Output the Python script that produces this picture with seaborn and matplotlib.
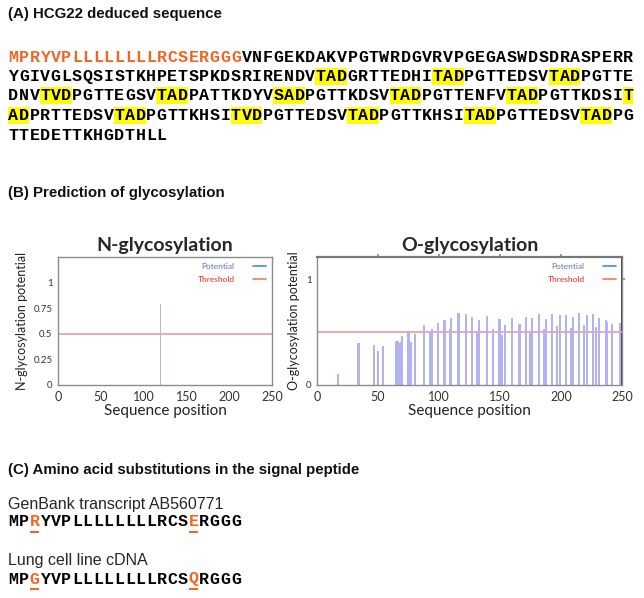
import numpy as np
import pandas as pd
import matplotlib
matplotlib.use("Agg")
import matplotlib.pyplot as plt
import seaborn as sns
from matplotlib.lines import Line2D
from matplotlib.patches import Rectangle

# ---- 数据 ----
SEQ_LINES = [
    "MPRYVPLLLLLLLLRCSERGGGVNFGEKDAKVPGTWRDGVRVPGEGASWDSDRASPERR",
    "YGIVGLSQSISTKHPETSPKDSRIRENDVTADGRTTEDHITADPGTTEDSVTADPGTTE",
    "DNVTVDPGTTEGSVTADPATTKDYVSADPGTTKDSVTADPGTTENFVTADPGTTKDSIT",
    "ADPRTTEDSVTADPGTTKHSITVDPGTTEDSVTADPGTTKHSITADPGTTEDSVTADPG",
    "TTEDETTKHGDTHLL",
]
SIGNAL_LEN = 22
MOTIFS = ["TAD", "TVD", "SAD"]

N_POS = [120]
N_VAL = [0.79]

O_POS = [17, 34, 47, 50, 54, 65, 66, 68, 69, 70, 75, 77, 80, 88, 93,
         94, 99, 104, 105, 109, 110, 116, 122, 127, 131, 133, 139, 144, 149, 150,
         152, 154, 160, 166, 171, 175, 176, 182, 186, 188, 193, 197, 199, 204, 208,
         210, 215, 219, 221, 226, 229, 231, 237, 238, 242, 248]
O_VAL = [0.10, 0.40, 0.38, 0.32, 0.37, 0.42, 0.42, 0.40, 0.41, 0.46, 0.51, 0.41, 0.48, 0.57, 0.51,
         0.53, 0.59, 0.61, 0.61, 0.53, 0.63, 0.68, 0.67, 0.64, 0.49, 0.61, 0.65, 0.53, 0.62, 0.62,
         0.47, 0.57, 0.63, 0.58, 0.64, 0.51, 0.63, 0.67, 0.53, 0.62, 0.67, 0.56, 0.66, 0.66, 0.54,
         0.64, 0.68, 0.57, 0.66, 0.67, 0.55, 0.63, 0.61, 0.60, 0.58, 0.59]

THRESHOLD = 0.5
X_TICKS = [0, 50, 100, 150, 200, 250]
N_YTICKS = [0, 0.25, 0.5, 0.75, 1]
N_YTICKLABELS = ["0", "0.25", "0.5", "0.75", "1"]
O_YTICKS = [0, 1]
O_YTICKLABELS = ["0", "1"]
LEGEND_LABELS = ["Potential", "Threshold"]

GENBANK_SEQ = "MPRYVPLLLLLLLLRCSERGGG"
LUNG_SEQ = "MPGYVPLLLLLLLLRCSQRGGG"

# ---- 样式 ----
W, H = 644, 598
ORANGE = "#f26522"
YELLOW = "#ffff00"
BAR = "#b3b3f2"
THR = "#f5a0a0"
BLUE_TXT = "#5b74b0"
BLUE_LINE = "#3d8fe0"
RED_TXT = "#f02828"
RED_LINE = "#f07a5a"
GREY = "#8c8c8c"
CW = 10.6          # 等宽字符间距 (px)
X0 = 8
PLOT_FONT = ["Lato", "DejaVu Sans"]
HEAD_KW = dict(fontsize=10.8, weight="bold", va="center", color="#111111")

sns.set_theme(style="white")
plt.rcParams["font.family"] = ["Liberation Sans", "DejaVu Sans"]


def fx(px):
    return px / W


def fy(py):
    return 1 - py / H


fig = plt.figure(figsize=(W / 100, H / 100), dpi=100)


def mono_text(seq, y, colors=None):
    for i, ch in enumerate(seq):
        c = colors[i] if colors else "black"
        fig.text(fx(X0 + (i + 0.5) * CW), fy(y), ch, ha="center", va="center",
                 family="Liberation Mono", weight="bold", fontsize=12, color=c)


# (A) 序列
fig.text(fx(X0), fy(14), "(A) HCG22 deduced sequence", **HEAD_KW)

full = "".join(SEQ_LINES)
starts = np.cumsum([0] + [len(s) for s in SEQ_LINES])
hl = np.zeros(len(full), dtype=bool)
for m in MOTIFS:
    k = full.find(m)
    while k >= 0:
        hl[k:k + len(m)] = True
        k = full.find(m, k + 1)

LINE_Y = [57 + 19.5 * i for i in range(len(SEQ_LINES))]
for li, (seq, y) in enumerate(zip(SEQ_LINES, LINE_Y)):
    for i in range(len(seq)):
        if hl[starts[li] + i]:
            fig.add_artist(Rectangle((fx(X0 + i * CW), fy(y + 8.5)), CW / W, 17 / H,
                                     transform=fig.transFigure, color=YELLOW, lw=0, zorder=0))
    colors = [ORANGE if starts[li] + i < SIGNAL_LEN else "black" for i in range(len(seq))]
    mono_text(seq, y, colors)

# (B) 糖基化预测
fig.text(fx(X0), fy(193), "(B) Prediction of glycosylation", **HEAD_KW)


def glyco_panel(left, right, pos, val, bar_w, title, ylabel, yticks, yticklabels, ylim, framed):
    ax = fig.add_axes([fx(left), fy(385), (right - left) / W, (385 - 257) / H])
    df = pd.DataFrame({"pos": pos, "val": val})
    sns.barplot(data=df, x="pos", y="val", native_scale=True, width=bar_w, color=BAR,
                saturation=1, linewidth=0, errorbar=None, ax=ax)
    ax.axhline(THRESHOLD, color=THR, lw=1.3, zorder=0.5)
    ax.set_xlim(0, 250)
    ax.set_ylim(*ylim)
    ax.set_xticks(X_TICKS)
    ax.set_xticklabels([str(t) for t in X_TICKS], family=PLOT_FONT, fontsize=9, color="#333333")
    ax.set_yticks(yticks)
    ax.set_yticklabels(yticklabels, family=PLOT_FONT, fontsize=7, color="#333333")
    ax.set_xlabel("Sequence position", family=PLOT_FONT, fontsize=11, labelpad=1, color="#222222")
    ax.set_ylabel(ylabel, family=PLOT_FONT, fontsize=9, labelpad=4, color="#222222")
    ax.set_title(title, family=PLOT_FONT, weight="bold", fontsize=14, pad=4)
    ax.tick_params(axis="both", direction="out", length=2.5, width=0.8, color=GREY, pad=1.5)
    for sp in ax.spines.values():
        sp.set_color(GREY)
        sp.set_linewidth(1)
    if framed:
        ax.spines["top"].set_linewidth(1.6)
        ax.spines["top"].set_color("#777777")
        top = ax.secondary_xaxis("top")
        top.set_xticks(X_TICKS[1:-1])
        top.tick_params(direction="out", length=2.5, color=GREY, labeltop=False)
        rgt = ax.secondary_yaxis("right")
        rgt.set_yticks([1])
        rgt.tick_params(direction="out", length=2.5, color=GREY, labelright=False)
    handles = [Line2D([], [], color=BLUE_LINE, lw=1.2), Line2D([], [], color=RED_LINE, lw=1.2)]
    leg = ax.legend(handles, LEGEND_LABELS, loc="upper right", frameon=False, markerfirst=False,
                    prop={"family": PLOT_FONT, "size": 6}, handlelength=1.6, handletextpad=2.2,
                    labelspacing=0.7, borderaxespad=0.3)
    for t, c in zip(leg.get_texts(), [BLUE_TXT, RED_TXT]):
        t.set_color(c)
    return ax


glyco_panel(58, 272, N_POS, N_VAL, 0.9, "N-glycosylation", "N-glycosylation potential",
            N_YTICKS, N_YTICKLABELS, (0, 1.25), False)
glyco_panel(317, 622, O_POS, O_VAL, 1.7, "O-glycosylation", "O-glycosylation potential",
            O_YTICKS, O_YTICKLABELS, (0, 1.21), True)

# (C) 信号肽氨基酸替换
fig.text(fx(X0), fy(470), "(C) Amino acid substitutions in the signal peptide", **HEAD_KW)

diff_idx = [i for i, (a, b) in enumerate(zip(GENBANK_SEQ, LUNG_SEQ)) if a != b]
for label, seq, ly, sy in [("GenBank transcript AB560771", GENBANK_SEQ, 504, 522),
                           ("Lung cell line cDNA", LUNG_SEQ, 561, 579)]:
    fig.text(fx(X0), fy(ly), label, fontsize=11.5, va="center")
    colors = [ORANGE if i in diff_idx else "black" for i in range(len(seq))]
    mono_text(seq, sy, colors)
    for i in diff_idx:
        fig.add_artist(Rectangle((fx(X0 + i * CW + 1), fy(sy + 11)), (CW - 2) / W, 2.2 / H,
                                 transform=fig.transFigure, color=ORANGE, lw=0))

fig.savefig("out.png", dpi=100, facecolor="white")
